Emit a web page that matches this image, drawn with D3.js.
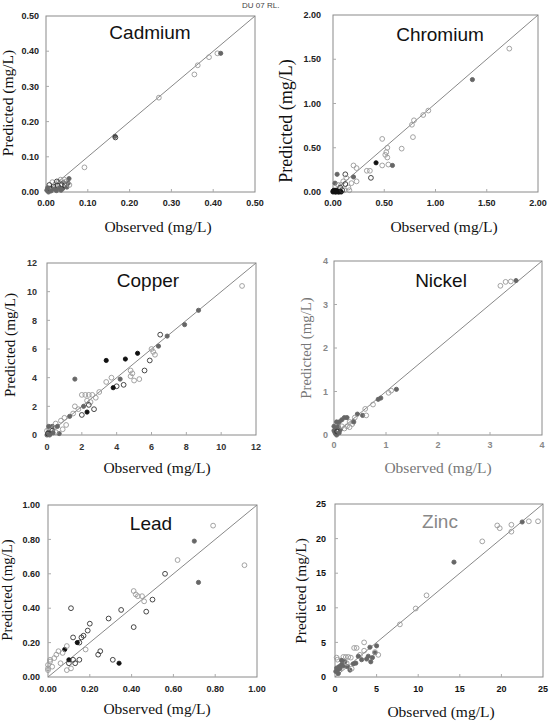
<!DOCTYPE html>
<html>
<head>
<meta charset="utf-8">
<script src="https://cdn.jsdelivr.net/npm/d3@7"></script>
<style>
  body { margin: 0; background: #fff; }
  svg { display: block; }
</style>
</head>
<body>
<svg id="chart" width="552" height="724"></svg>
<script>
// point kinds: g = open grey circle, o = open dark circle, f = filled black, s = filled grey
const cadmiumPts = [
  [0.092,0.070,"g"],[0.165,0.158,"s"],[0.166,0.155,"o"],[0.270,0.268,"g"],[0.355,0.334,"g"],
  [0.363,0.360,"g"],[0.390,0.383,"g"],[0.410,0.394,"g"],[0.418,0.394,"s"],
  [0.002,0.005,"s"],[0.006,0.000,"s"],[0.010,0.010,"o"],[0.012,0.003,"s"],[0.015,0.028,"g"],
  [0.018,0.015,"o"],[0.020,0.008,"s"],[0.022,0.022,"g"],[0.025,0.004,"s"],[0.028,0.018,"o"],
  [0.030,0.028,"g"],[0.032,0.012,"s"],[0.035,0.035,"g"],[0.038,0.022,"o"],[0.040,0.010,"s"],
  [0.042,0.027,"s"],[0.045,0.018,"o"],[0.048,0.030,"g"],[0.050,0.014,"s"],[0.053,0.025,"s"],
  [0.055,0.038,"s"],[0.056,0.020,"g"],[0.008,0.020,"o"],[0.004,0.012,"s"],[0.026,0.030,"o"],
  [0.036,0.005,"s"],[0.044,0.035,"g"]
];
const chromiumPts = [
  [1.72,1.62,"g"],[1.36,1.27,"s"],[0.93,0.92,"g"],[0.88,0.87,"g"],[0.79,0.81,"g"],[0.77,0.76,"g"],
  [0.78,0.62,"g"],[0.48,0.60,"g"],[0.67,0.49,"g"],[0.53,0.50,"g"],[0.52,0.45,"g"],[0.51,0.42,"g"],
  [0.53,0.39,"g"],[0.54,0.31,"g"],[0.58,0.30,"s"],[0.48,0.30,"g"],[0.42,0.33,"f"],[0.37,0.16,"o"],
  [0.33,0.24,"g"],[0.36,0.24,"g"],[0.20,0.30,"g"],[0.23,0.27,"g"],[0.23,0.12,"g"],[0.20,0.17,"s"],
  [0.18,0.10,"g"],[0.12,0.20,"o"],[0.13,0.16,"g"],[0.10,0.12,"g"],[0.08,0.08,"g"],[0.15,0.05,"g"],
  [0.16,0.02,"g"],[0.04,0.20,"s"],[0.02,0.10,"s"],[0.05,0.08,"g"],[0.07,0.05,"o"],[0.11,0.02,"g"],
  [0.12,0.09,"o"],
  [0.00,0.00,"f"],[0.02,0.00,"f"],[0.04,0.01,"f"],[0.06,0.00,"f"],[0.01,0.02,"f"],[0.03,0.02,"f"],
  [0.05,0.00,"f"],[0.07,0.01,"f"],[0.00,0.01,"f"],[0.08,0.00,"f"],[0.03,0.00,"f"],[0.09,0.02,"o"]
];
const copperPts = [
  [11.2,10.4,"g"],[8.7,8.7,"s"],[7.9,7.7,"s"],[6.9,6.9,"s"],[6.5,7.0,"o"],[6.4,6.2,"s"],[6.0,6.0,"g"],
  [6.1,5.8,"g"],[6.2,5.6,"g"],[5.9,5.2,"o"],[5.6,4.5,"o"],[5.2,5.7,"f"],[4.5,5.3,"f"],[3.4,5.2,"f"],
  [5.3,3.9,"g"],[5.0,3.8,"g"],[4.8,4.5,"g"],[4.9,4.3,"g"],[4.8,4.1,"g"],[4.2,3.9,"s"],[4.4,3.5,"o"],
  [4.0,3.4,"o"],[3.8,3.3,"f"],[3.7,4.0,"g"],[3.4,3.7,"g"],[1.6,3.9,"s"],[3.0,3.0,"g"],[2.8,2.6,"g"],
  [2.6,2.8,"g"],[2.4,2.8,"g"],[2.2,2.8,"g"],[2.0,2.8,"g"],[2.5,2.3,"g"],[2.3,2.4,"g"],[2.4,2.1,"o"],
  [2.1,2.0,"s"],[2.7,1.8,"o"],[2.3,1.6,"f"],[2.0,1.4,"o"],[1.6,2.0,"g"],[1.8,1.8,"g"],[1.5,1.5,"g"],
  [1.3,1.3,"s"],[1.0,1.2,"g"],[0.8,1.0,"g"],[1.1,0.7,"g"],[0.9,0.4,"g"],[0.7,0.1,"s"],[0.5,0.8,"g"],
  [0.3,0.6,"s"],[0.2,0.4,"g"],[0.1,0.2,"s"],[0.0,0.3,"g"],[0.2,0.1,"s"],[0.4,0.5,"g"],[0.6,0.6,"s"],
  [0.1,0.6,"s"],[0.3,0.3,"o"],[0.0,0.0,"s"],[0.5,0.2,"g"],[0.05,0.1,"o"],[0.15,0.0,"s"],[0.35,0.15,"s"]
];
const nickelPts = [
  [3.5,3.55,"s"],[3.4,3.53,"g"],[3.3,3.52,"g"],[3.2,3.43,"g"],[1.2,1.05,"s"],[1.1,1.02,"g"],
  [1.05,0.97,"g"],[0.9,0.85,"s"],[0.85,0.82,"s"],[0.75,0.70,"g"],[0.6,0.6,"g"],[0.55,0.45,"s"],
  [0.62,0.45,"g"],[0.45,0.48,"s"],[0.4,0.40,"g"],[0.3,0.30,"g"],[0.35,0.25,"g"],[0.3,0.18,"g"],
  [0.38,0.30,"s"],[0.2,0.40,"s"],[0.25,0.40,"s"],[0.15,0.35,"s"],[0.1,0.30,"s"],[0.05,0.30,"s"],
  [0.2,0.15,"g"],[0.12,0.12,"s"],[0.08,0.20,"s"],[0.02,0.05,"s"],[0.03,0.15,"s"],[0.05,0.0,"s"],
  [0.0,0.10,"s"],[0.06,0.08,"o"],[0.1,0.05,"s"],[0.0,0.20,"s"],[0.15,0.2,"g"],[0.25,0.2,"g"]
];
const leadPts = [
  [0.94,0.65,"g"],[0.79,0.88,"g"],[0.70,0.79,"s"],[0.72,0.55,"s"],[0.62,0.68,"g"],[0.56,0.60,"o"],
  [0.50,0.45,"o"],[0.47,0.38,"o"],[0.41,0.29,"o"],[0.41,0.50,"g"],[0.42,0.48,"g"],[0.43,0.47,"g"],
  [0.45,0.47,"g"],[0.46,0.44,"g"],[0.35,0.39,"o"],[0.29,0.34,"o"],[0.31,0.10,"o"],[0.34,0.08,"f"],
  [0.25,0.15,"o"],[0.24,0.13,"o"],[0.20,0.31,"o"],[0.19,0.27,"o"],[0.17,0.24,"o"],[0.16,0.23,"o"],
  [0.15,0.20,"o"],[0.12,0.23,"o"],[0.11,0.40,"o"],[0.18,0.16,"g"],[0.15,0.10,"o"],[0.13,0.08,"o"],
  [0.08,0.16,"f"],[0.10,0.10,"f"],[0.10,0.08,"o"],[0.12,0.10,"o"],[0.09,0.18,"g"],[0.07,0.14,"g"],
  [0.05,0.15,"g"],[0.04,0.13,"g"],[0.03,0.11,"g"],[0.01,0.09,"g"],[0.00,0.07,"g"],[0.00,0.05,"g"],
  [0.02,0.06,"g"],[0.01,0.10,"g"],[0.00,0.04,"g"],[0.09,0.04,"g"],[0.11,0.05,"g"],[0.06,0.08,"g"],
  [0.14,0.20,"f"]
];
const zincPts = [
  [24.4,22.5,"g"],[23.3,22.5,"g"],[22.5,22.4,"s"],[21.2,22.0,"g"],[21.2,21.0,"g"],[19.8,21.5,"g"],
  [19.5,21.9,"g"],[17.7,19.6,"g"],[14.3,16.6,"s"],[11.0,11.8,"g"],[9.7,9.9,"g"],[7.8,7.6,"g"],
  [5.0,4.5,"s"],[5.2,3.2,"g"],[4.8,3.5,"s"],[3.5,5.0,"g"],[4.2,4.3,"s"],[2.3,4.2,"g"],[2.6,4.2,"g"],
  [3.0,3.2,"g"],[3.5,3.8,"g"],[4.0,3.0,"s"],[4.3,2.2,"s"],[4.5,2.8,"s"],[3.2,2.5,"s"],[2.5,2.0,"s"],
  [2.2,1.9,"s"],[1.0,2.9,"g"],[1.3,2.9,"g"],[1.6,2.9,"g"],[1.9,2.8,"g"],[0.2,2.8,"g"],[0.3,2.5,"g"],
  [0.5,1.5,"s"],[0.8,1.8,"s"],[1.2,2.2,"s"],[1.5,1.5,"s"],[1.8,1.0,"s"],[0.3,1.0,"s"],[0.1,0.8,"s"],
  [0.6,1.2,"s"],[1.0,1.6,"s"],[0.2,1.3,"s"],[0.4,0.5,"s"],[2.0,1.2,"g"],[1.4,2.0,"g"],[0.8,2.4,"s"],
  [3.8,2.6,"s"],[4.8,3.6,"g"],[2.8,3.0,"s"]
];

const metalNames = ["Cadmium", "Chromium", "Copper", "Nickel", "Lead", "Zinc"];
const axisMax = [0.5, 2, 12, 4, 1, 25];
const tickValues = [
  [0, 0.1, 0.2, 0.3, 0.4, 0.5],
  [0, 0.5, 1, 1.5, 2],
  [0, 2, 4, 6, 8, 10, 12],
  [0, 1, 2, 3, 4],
  [0, 0.2, 0.4, 0.6, 0.8, 1],
  [0, 5, 10, 15, 20, 25]
];
const tickFormats = [".2f", ".2f", "d", "d", ".2f", "d"];
const allPts = [cadmiumPts, chromiumPts, copperPts, nickelPts, leadPts, zincPts];

// frame boxes: [left, right, top, bottom]
const frames = [
  [46, 255, 16, 192],
  [333, 538, 15, 192],
  [47, 256, 263, 435],
  [334, 542, 261, 435],
  [48, 257, 505, 677],
  [335, 543, 504, 677]
];
// per panel layout tweaks (scan is not uniform)
const layout = [
  { title: [150, 39, "#111"], ylab: [13, 103, 15.5], xlab: [158, 232], ygap: 7, xgap: 14, txt: "#222" },
  { title: [440, 41, "#111"], ylab: [292, 121, 18], xlab: [444, 232], ygap: 12, xgap: 14, txt: "#222" },
  { title: [148, 287, "#111"], ylab: [15, 345, 15.2], xlab: [157, 473], ygap: 10, xgap: 15, txt: "#333" },
  { title: [441, 287, "#111"], ylab: [311, 348, 14.8], xlab: [438, 473], ygap: 6, xgap: 13, txt: "#888" },
  { title: [151, 530, "#111"], ylab: [12, 590, 14.8], xlab: [157, 714], ygap: 8, xgap: 15, txt: "#222" },
  { title: [440, 528, "#888"], ylab: [306, 591, 15.4], xlab: [441, 717], ygap: 9, xgap: 15, txt: "#111" }
];

const svg = d3.select("#chart");

svg.append("text")
  .attr("x", 242).attr("y", 8)
  .attr("font-family", "Liberation Sans, Arial, sans-serif")
  .attr("font-size", 8).attr("fill", "#444")
  .text("DU 07 RL.");

const kindStyle = {
  g: { fill: "none", stroke: "#999" },
  o: { fill: "none", stroke: "#333" },
  f: { fill: "#111", stroke: "#111" },
  s: { fill: "#666", stroke: "#666" }
};

metalNames.forEach((name, i) => {
  const [l, r, t, b] = frames[i];
  const lay = layout[i];
  const x = d3.scaleLinear().domain([0, axisMax[i]]).range([l, r]);
  const y = d3.scaleLinear().domain([0, axisMax[i]]).range([b, t]);
  const fmt = d3.format(tickFormats[i]);
  const g = svg.append("g");

  g.append("rect")
    .attr("x", l).attr("y", t)
    .attr("width", r - l).attr("height", b - t)
    .attr("fill", "none").attr("stroke", "#8a8a8a").attr("stroke-width", 1);

  // small inward ticks
  tickValues[i].slice(1, -1).forEach((v) => {
    g.append("line").attr("x1", x(v)).attr("x2", x(v)).attr("y1", b).attr("y2", b - 3)
      .attr("stroke", "#aaa");
    g.append("line").attr("x1", l).attr("x2", l + 3).attr("y1", y(v)).attr("y2", y(v))
      .attr("stroke", "#aaa");
  });

  // 1:1 line
  g.append("line")
    .attr("x1", x(0)).attr("y1", y(0))
    .attr("x2", x(axisMax[i])).attr("y2", y(axisMax[i]))
    .attr("stroke", "#888").attr("stroke-width", 1);

  g.selectAll("text.yt").data(tickValues[i]).enter().append("text")
    .attr("class", "yt")
    .attr("x", l - lay.ygap).attr("y", (d) => y(d) + 3.2)
    .attr("text-anchor", "end")
    .attr("font-family", "Liberation Sans, Arial, sans-serif")
    .attr("font-size", 9).attr("font-weight", "bold")
    .attr("fill", lay.txt)
    .text((d) => fmt(d));

  g.selectAll("text.xt").data(tickValues[i]).enter().append("text")
    .attr("class", "xt")
    .attr("x", (d) => x(d)).attr("y", b + lay.xgap)
    .attr("text-anchor", "middle")
    .attr("font-family", "Liberation Sans, Arial, sans-serif")
    .attr("font-size", 9).attr("font-weight", "bold")
    .attr("fill", lay.txt)
    .text((d) => fmt(d));

  g.selectAll("circle").data(allPts[i]).enter().append("circle")
    .attr("cx", (d) => x(d[0]))
    .attr("cy", (d) => y(d[1]))
    .attr("r", (d) => (d[2] === "f" || d[2] === "s") ? 2.1 : 2.4)
    .attr("fill", (d) => kindStyle[d[2]].fill)
    .attr("stroke", (d) => kindStyle[d[2]].stroke)
    .attr("stroke-width", 0.9);

  g.append("text")
    .attr("x", lay.title[0]).attr("y", lay.title[1])
    .attr("text-anchor", "middle")
    .attr("font-family", "Liberation Sans, Arial, sans-serif")
    .attr("font-size", 19).attr("fill", lay.title[2])
    .text(name);

  g.append("text")
    .attr("x", lay.xlab[0]).attr("y", lay.xlab[1])
    .attr("text-anchor", "middle")
    .attr("font-family", "Liberation Serif, Times New Roman, serif")
    .attr("font-size", 15.5).attr("fill", i === 3 ? "#777" : "#111")
    .text("Observed (mg/L)");

  g.append("text")
    .attr("transform", `translate(${lay.ylab[0]},${lay.ylab[1]}) rotate(-90)`)
    .attr("text-anchor", "middle")
    .attr("font-family", "Liberation Serif, Times New Roman, serif")
    .attr("font-size", lay.ylab[2]).attr("fill", i === 3 ? "#777" : "#111")
    .text("Predicted (mg/L)");
});
</script>
</body>
</html>
